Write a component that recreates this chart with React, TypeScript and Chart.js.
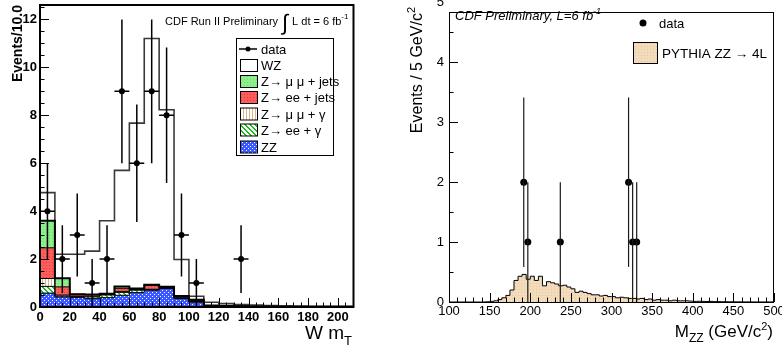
import React, { useEffect, useRef } from 'react';
import { Chart, registerables } from 'chart.js';
Chart.register(...registerables);

const FONT = '"Liberation Sans", Arial, Helvetica, sans-serif';

// ---------- Left panel: W m_T (stacked) ----------
const WMT_EDGES = [0, 10, 20, 30, 40, 50, 60, 70, 80, 90, 100, 110, 120, 130, 140, 150, 160, 170, 180, 190, 200, 210];
const ZZ_BKG = [0.58, 0.42, 0.40, 0.35, 0.39, 0.49, 0.60, 0.70, 0.77, 0.35, 0.20, 0.06, 0.04, 0.03, 0.02, 0.02, 0.01, 0.01, 0.01, 0.01, 0.01];
const ZEE_GAMMA = [0.28, 0.04, 0.03, 0.07, 0.11, 0.12, 0.10, 0.02, 0.02, 0.02, 0.02, 0, 0, 0, 0, 0, 0, 0, 0, 0, 0];
const ZMM_GAMMA = [0.33, 0.04, 0.02, 0.03, 0.03, 0.04, 0.03, 0.02, 0.02, 0.01, 0.01, 0, 0, 0, 0, 0, 0, 0, 0, 0, 0];
const ZEE_JETS = [1.28, 0.34, 0.08, 0.07, 0, 0.13, 0, 0.16, 0, 0, 0.05, 0, 0, 0, 0, 0, 0, 0, 0, 0, 0];
const ZMM_JETS = [1.13, 0.36, 0, 0, 0.02, 0.08, 0.04, 0.03, 0.03, 0.08, 0.02, 0, 0, 0, 0, 0, 0, 0, 0, 0, 0];
const WZ = [1.17, 1.0, 1.67, 1.81, 3.05, 4.84, 6.9, 10.27, 7.39, 1.52, 0.15, 0.14, 0.10, 0.07, 0.06, 0.04, 0.04, 0.03, 0.02, 0.02, 0.02];
const WMT_DATA_X = [5, 15, 25, 35, 45, 55, 65, 75, 85, 95, 105, 135];
const WMT_DATA_Y = [4, 2, 3, 1, 2, 9, 6, 9, 8, 3, 1, 2];
const WMT_X_TICKS = [0, 20, 40, 60, 80, 100, 120, 140, 160, 180, 200];
const WMT_Y_TICKS = [0, 2, 4, 6, 8, 10, 12];
const WMT_LEGEND = ['data', 'WZ', 'Z\u2192 \u03bc \u03bc + jets', 'Z\u2192 ee + jets', 'Z\u2192 \u03bc \u03bc + \u03b3', 'Z\u2192 ee + \u03b3', 'ZZ'];

// ---------- Right panel: M_ZZ ----------
const MZZ_EDGES = [100, 105, 110, 115, 120, 125, 130, 135, 140, 145, 150, 155, 160, 165, 170, 175, 180, 185, 190, 195,
  200, 205, 210, 215, 220, 225, 230, 235, 240, 245, 250, 255, 260, 265, 270, 275, 280, 285, 290, 295,
  300, 305, 310, 315, 320, 325, 330, 335, 340, 345, 350, 355, 360, 365, 370, 375, 380, 385, 390, 395,
  400, 405, 410, 415, 420, 425, 430, 435, 440, 445, 450, 455, 460, 465, 470, 475, 480, 485, 490, 495, 500];
const PYTHIA_ZZ = [0, 0, 0, 0, 0, 0, 0, 0, 0, 0.003,
  0.01, 0.02, 0.04, 0.07, 0.11, 0.2, 0.36, 0.43, 0.46, 0.38,
  0.43, 0.36, 0.43, 0.27, 0.34, 0.32, 0.30, 0.27, 0.28, 0.25,
  0.22, 0.16, 0.18, 0.16, 0.14, 0.12, 0.12, 0.10, 0.11, 0.09,
  0.09, 0.07, 0.08, 0.07, 0.06, 0.06, 0.05, 0.06, 0.04, 0.05,
  0.03, 0.04, 0.03, 0.03, 0.02, 0.03, 0.02, 0.02, 0.02, 0.015,
  0.01, 0.012, 0.01, 0.008, 0.01, 0.006, 0.006, 0.005, 0.004, 0.004,
  0.003, 0.003, 0.002, 0.002, 0.002, 0.001, 0.001, 0.001, 0.001, 0.001];
const MZZ_DATA_X = [192, 197, 237, 321, 326, 331];
const MZZ_DATA_Y = [2, 1, 1, 2, 1, 1];
const MZZ_X_TICKS = [100, 150, 200, 250, 300, 350, 400, 450, 500];
const MZZ_Y_TICKS = [0, 1, 2, 3, 4, 5];

type Pt = { x: number; y: number };
const steps = (edges: number[], vals: number[]): Pt[] =>
  edges.map((x, i) => ({ x, y: vals[Math.min(i, vals.length - 1)] }));

function range(a: number, b: number, s: number) {
  const r: number[] = [];
  for (let v = a; v <= b + 1e-9; v += s) r.push(Math.round(v * 1000) / 1000);
  return r;
}

function makePattern(w: number, h: number, bg: string, fg: string, pix: [number, number][]) {
  const c = document.createElement('canvas');
  c.width = w; c.height = h;
  const g = c.getContext('2d')!;
  g.fillStyle = bg; g.fillRect(0, 0, w, h);
  g.fillStyle = fg;
  pix.forEach(([x, y]) => g.fillRect(x, y, 1, 1));
  return g.createPattern(c, 'repeat')!;
}

function drawInsideTicks(ctx: CanvasRenderingContext2D, chart: any, xMaj: number[], xMin: number[], yMaj: number[], yMin: number[], lMaj: number, lMin: number) {
  const a = chart.chartArea, xs = chart.scales.x, ys = chart.scales.y;
  ctx.beginPath();
  const xt = (vals: number[], len: number) => vals.forEach(v => {
    const p = Math.round(xs.getPixelForValue(v)) + 0.5;
    ctx.moveTo(p, a.bottom); ctx.lineTo(p, a.bottom - len);
  });
  const yt = (vals: number[], len: number) => vals.forEach(v => {
    const p = Math.round(ys.getPixelForValue(v)) + 0.5;
    ctx.moveTo(a.left, p); ctx.lineTo(a.left + len, p);
  });
  xt(xMaj, lMaj); xt(xMin, lMin); yt(yMaj, lMaj); yt(yMin, lMin);
  ctx.stroke();
}

function pieces(ctx: CanvasRenderingContext2D, parts: [string, string, number][], x: number, y: number) {
  let cx = x;
  parts.forEach(([s, f, dy]) => { ctx.font = f; ctx.fillText(s, cx, y + dy); cx += ctx.measureText(s).width; });
  return cx - x;
}
function piecesWidth(ctx: CanvasRenderingContext2D, parts: [string, string, number][]) {
  let w = 0;
  parts.forEach(([s, f]) => { ctx.font = f; w += ctx.measureText(s).width; });
  return w;
}

export default function App() {
  const leftRef = useRef<HTMLCanvasElement>(null);
  const rightRef = useRef<HTMLCanvasElement>(null);

  useEffect(() => {
    const P = {
      zz: makePattern(4, 4, '#3a58ff', '#ffffff', [[0, 0], [2, 2]]),
      zeeG: makePattern(5, 5, '#ffffff', '#18c018', [[0, 0], [1, 1], [2, 2], [3, 3], [4, 4], [1, 0], [2, 1], [3, 2], [4, 3], [0, 4]]),
      zmmG: makePattern(3, 1, '#ffffff', '#d8b48a', [[0, 0]]),
      zeeJ: makePattern(3, 3, '#ff5c5c', '#e23a3a', [[1, 1]]),
      zmmJ: makePattern(3, 3, '#8cf08c', '#70da70', [[1, 1]]),
      tan: makePattern(3, 3, '#f2dcbb', '#e3c8a2', [[1, 1]]),
    };
    const legFills: any[] = [null, '#ffffff', P.zmmJ, P.zeeJ, P.zmmG, P.zeeG, P.zz];

    const histDs = (label: string, vals: number[], bg: any, fill: any, border = '#000', bw = 1) => ({
      label, data: steps(WMT_EDGES, vals), stepped: 'before', fill, backgroundColor: bg,
      borderColor: border, borderWidth: bw, pointRadius: 0, tension: 0, stack: 'bkg',
    });

    const halfBin = (WMT_EDGES[1] - WMT_EDGES[0]) / 2;

    const leftDecor = {
      id: 'leftDecor',
      afterDatasetsDraw(chart: any) {
        const { ctx, chartArea: a, scales: { x: xs, y: ys } } = chart;
        ctx.save();
        ctx.strokeStyle = '#000'; ctx.lineWidth = 1.5;
        WMT_DATA_X.forEach((xv, i) => {
          const n = WMT_DATA_Y[i], e = Math.sqrt(n);
          const px = xs.getPixelForValue(xv), py = ys.getPixelForValue(n);
          ctx.beginPath();
          ctx.moveTo(px, ys.getPixelForValue(Math.max(0, n - e)));
          ctx.lineTo(px, ys.getPixelForValue(n + e));
          ctx.moveTo(xs.getPixelForValue(xv - halfBin), py);
          ctx.lineTo(xs.getPixelForValue(xv + halfBin), py);
          ctx.stroke();
        });
        ctx.lineWidth = 1;
        drawInsideTicks(ctx, chart, WMT_X_TICKS, range(0, 210, 5), WMT_Y_TICKS, range(0, 12.5, 0.5), 9, 4.5);
        ctx.lineWidth = 2;
        ctx.strokeRect(a.left, a.top, a.right - a.left, a.bottom - a.top);
        ctx.restore();
      },
      afterDraw(chart: any) {
        const { ctx } = chart;
        ctx.save();
        ctx.fillStyle = '#000';
        ctx.textAlign = 'left'; ctx.textBaseline = 'alphabetic';
        // title
        let x = 165;
        ctx.font = `11px ${FONT}`; ctx.fillText('CDF Run II Preliminary', x, 25);
        x += ctx.measureText('CDF Run II Preliminary').width + 4;
        ctx.font = `22px ${FONT}`; ctx.fillText('\u222b', x, 30);
        x += ctx.measureText('\u222b').width + 4;
        pieces(ctx, [['L dt = 6 fb', `11px ${FONT}`, 0], ['-1', `8px ${FONT}`, -6]], x, 25);
        // legend box
        ctx.fillStyle = '#fff'; ctx.strokeStyle = '#000'; ctx.lineWidth = 1;
        ctx.fillRect(236.5, 38.5, 97, 117); ctx.strokeRect(236.5, 38.5, 97, 117);
        const ys = [49, 65.5, 81.5, 97.5, 114, 130, 147];
        WMT_LEGEND.forEach((lab, i) => {
          const cy = ys[i];
          if (i === 0) {
            ctx.lineWidth = 1.5; ctx.beginPath(); ctx.moveTo(239, cy); ctx.lineTo(257, cy); ctx.stroke();
            ctx.fillStyle = '#000'; ctx.beginPath(); ctx.arc(248, cy, 2.5, 0, Math.PI * 2); ctx.fill();
          } else {
            ctx.fillStyle = legFills[i]; ctx.fillRect(240.5, cy - 6, 17, 12);
            ctx.lineWidth = 1; ctx.strokeStyle = '#000'; ctx.strokeRect(240.5, cy - 6, 17, 12);
          }
          ctx.fillStyle = '#000'; ctx.font = `13px ${FONT}`; ctx.fillText(lab, 261, cy + 4.5);
        });
        // y title
        ctx.save();
        ctx.translate(21.5, 5); ctx.rotate(-Math.PI / 2);
        ctx.font = `bold 14px ${FONT}`; ctx.textAlign = 'right'; ctx.fillText('Events/10.0', 0, 0);
        ctx.restore();
        // x title
        const xt: [string, string, number][] = [['W m', `19px ${FONT}`, 0], ['T', `13px ${FONT}`, 6]];
        pieces(ctx, xt, 352 - piecesWidth(ctx, xt), 339);
        ctx.restore();
      },
    };

    const left = new Chart(leftRef.current!, {
      type: 'line',
      data: {
        datasets: [
          histDs('ZZ', ZZ_BKG, P.zz, 'origin'),
          histDs('Z\u2192 ee + \u03b3', ZEE_GAMMA, P.zeeG, '-1'),
          histDs('Z\u2192 \u03bc \u03bc + \u03b3', ZMM_GAMMA, P.zmmG, '-1'),
          histDs('Z\u2192 ee + jets', ZEE_JETS, P.zeeJ, '-1'),
          histDs('Z\u2192 \u03bc \u03bc + jets', ZMM_JETS, P.zmmJ, '-1', '#000', 2),
          histDs('WZ', WZ, '#ffffff', '-1', '#3a3a3a', 1.6),
          {
            label: 'data', data: WMT_DATA_X.map((x, i) => ({ x, y: WMT_DATA_Y[i] })),
            showLine: false, pointRadius: 3, pointBackgroundColor: '#000', pointBorderWidth: 0,
            borderColor: '#000', fill: false, stack: 'pts', order: -1,
          } as any,
        ] as any,
      },
      options: {
        responsive: false, animation: false, devicePixelRatio: 1, events: [],
        layout: { padding: { left: 0, top: 5, right: 37.5, bottom: 0 } },
        plugins: { legend: { display: false }, tooltip: { enabled: false }, filler: { drawTime: 'beforeDatasetsDraw' } as any },
        scales: {
          x: {
            type: 'linear', min: 0, max: 210.5,
            grid: { display: false, drawTicks: false }, border: { display: false },
            ticks: { color: '#000', padding: 3, maxRotation: 0, autoSkip: false, font: { family: FONT, size: 13, weight: 'bold' } },
            afterBuildTicks: (s: any) => { s.ticks = WMT_X_TICKS.map(v => ({ value: v })); },
            afterFit: (s: any) => { s.height = 47; s.paddingLeft = 0; s.paddingRight = 0; s.paddingTop = 0; s.paddingBottom = 0; },
          },
          y: {
            type: 'linear', stacked: true, min: 0, max: 12.6,
            grid: { display: false, drawTicks: false }, border: { display: false },
            ticks: { color: '#000', padding: 3, autoSkip: false, font: { family: FONT, size: 13, weight: 'bold' } },
            afterBuildTicks: (s: any) => { s.ticks = WMT_Y_TICKS.map(v => ({ value: v })); },
            afterFit: (s: any) => { s.width = 40; s.paddingLeft = 0; s.paddingRight = 0; s.paddingTop = 0; s.paddingBottom = 0; },
          },
        },
      } as any,
      plugins: [leftDecor],
    });

    const rightDecor = {
      id: 'rightDecor',
      afterDatasetsDraw(chart: any) {
        const { ctx, chartArea: a, scales: { x: xs, y: ys } } = chart;
        ctx.save();
        ctx.strokeStyle = '#1a1a1a'; ctx.lineWidth = 1.2;
        MZZ_DATA_X.forEach((xv, i) => {
          const n = MZZ_DATA_Y[i], e = Math.sqrt(n);
          const px = xs.getPixelForValue(xv);
          ctx.beginPath();
          ctx.moveTo(px, ys.getPixelForValue(Math.max(0, n - e)));
          ctx.lineTo(px, ys.getPixelForValue(n + e));
          ctx.stroke();
        });
        ctx.strokeStyle = '#000'; ctx.lineWidth = 1;
        drawInsideTicks(ctx, chart, MZZ_X_TICKS, range(100, 500, 10), MZZ_Y_TICKS.filter(v => v < 4.84), range(0, 4.5, 0.5), 9, 4.5);
        ctx.strokeRect(a.left + 0.5, a.top + 0.5, a.right - a.left - 1, a.bottom - a.top);
        ctx.restore();
      },
      afterDraw(chart: any) {
        const { ctx } = chart;
        ctx.save();
        ctx.fillStyle = '#000'; ctx.textAlign = 'left'; ctx.textBaseline = 'alphabetic';
        pieces(ctx, [['CDF Preliminary, L=6 fb', `italic 13px ${FONT}`, 0], ['-1', `italic 9px ${FONT}`, -6]], 64, 20);
        // legend
        ctx.beginPath(); ctx.arc(252, 23, 3.5, 0, Math.PI * 2); ctx.fill();
        ctx.font = `13px ${FONT}`; ctx.fillText('data', 268, 28);
        ctx.fillStyle = P.tan; ctx.fillRect(242.5, 42.5, 24, 21);
        ctx.strokeStyle = '#000'; ctx.lineWidth = 1; ctx.strokeRect(242.5, 42.5, 24, 21);
        ctx.fillStyle = '#000'; ctx.font = `13.5px ${FONT}`; ctx.fillText('PYTHIA ZZ \u2192 4L', 271, 58);
        // x title
        const xt: [string, string, number][] = [['M', `17px ${FONT}`, 0], ['ZZ', `12px ${FONT}`, 5], [' (GeV/c', `17px ${FONT}`, 0], ['2', `11px ${FONT}`, -7], [')', `17px ${FONT}`, 0]];
        pieces(ctx, xt, 382 - piecesWidth(ctx, xt), 337);
        // y title
        ctx.save();
        ctx.translate(31, 7); ctx.rotate(-Math.PI / 2);
        const yt: [string, string, number][] = [['Events / 5 GeV/c', `16px ${FONT}`, 0], ['2', `11px ${FONT}`, -7]];
        pieces(ctx, yt, -piecesWidth(ctx, yt), 0);
        ctx.restore();
        ctx.restore();
      },
    };

    const right = new Chart(rightRef.current!, {
      type: 'line',
      data: {
        datasets: [
          {
            label: 'PYTHIA ZZ \u2192 4L', data: steps(MZZ_EDGES, PYTHIA_ZZ), stepped: 'before', fill: 'origin',
            backgroundColor: P.tan, borderColor: '#000', borderWidth: 1, pointRadius: 0, tension: 0,
          },
          {
            label: 'data', data: MZZ_DATA_X.map((x, i) => ({ x, y: MZZ_DATA_Y[i] })),
            showLine: false, pointRadius: 3.5, pointBackgroundColor: '#000', pointBorderWidth: 0,
            borderColor: '#000', fill: false, order: -1,
          },
        ] as any,
      },
      options: {
        responsive: false, animation: false, devicePixelRatio: 1, events: [],
        layout: { padding: { left: 0, top: 12, right: 8, bottom: 0 } },
        plugins: { legend: { display: false }, tooltip: { enabled: false } },
        scales: {
          x: {
            type: 'linear', min: 100, max: 500,
            grid: { display: false, drawTicks: false }, border: { display: false },
            ticks: { color: '#000', padding: 2, maxRotation: 0, autoSkip: false, font: { family: FONT, size: 13 } },
            afterBuildTicks: (s: any) => { s.ticks = MZZ_X_TICKS.map(v => ({ value: v })); },
            afterFit: (s: any) => { s.height = 52; s.paddingLeft = 0; s.paddingRight = 0; s.paddingTop = 0; s.paddingBottom = 0; },
          },
          y: {
            type: 'linear', min: 0, max: 4.84,
            grid: { display: false, drawTicks: false }, border: { display: false },
            ticks: { color: '#000', padding: 5, autoSkip: false, font: { family: FONT, size: 13 } },
            afterBuildTicks: (s: any) => { s.ticks = MZZ_Y_TICKS.map(v => ({ value: v })); },
            afterFit: (s: any) => { s.width = 58; s.paddingLeft = 0; s.paddingRight = 0; s.paddingTop = 0; s.paddingBottom = 0; },
          },
        },
      } as any,
      plugins: [rightDecor],
    });

    return () => { left.destroy(); right.destroy(); };
  }, []);

  return (
    <div style={{ position: 'fixed', left: 0, top: 0, width: 782, height: 354, background: '#fff' }}>
      <canvas ref={leftRef} width={391} height={354} style={{ position: 'absolute', left: 0, top: 0, width: 391, height: 354 }} />
      <canvas ref={rightRef} width={391} height={354} style={{ position: 'absolute', left: 391, top: 0, width: 391, height: 354 }} />
    </div>
  );
}
